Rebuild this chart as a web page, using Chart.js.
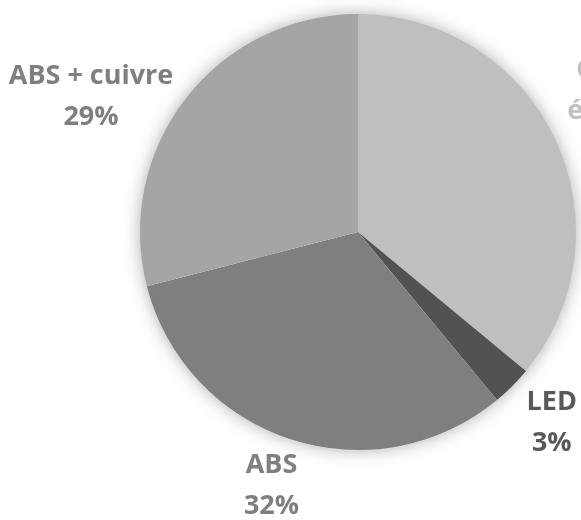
<!DOCTYPE html>
<html>
<head>
<meta charset="utf-8">
<script src="https://cdn.jsdelivr.net/npm/chart.js@4.4.1/dist/chart.umd.min.js"></script>
<style>
  html, body { margin: 0; padding: 0; background: #ffffff; overflow: hidden; }
  #wrap { width: 581px; height: 520px; position: relative; }
</style>
</head>
<body>
<div id="wrap"><canvas id="c" width="581" height="520"></canvas></div>
<script>
// ---- data ----
const categories = ["Composants électroniques", "LED", "ABS", "ABS + cuivre"];
const labelLines = [["Composants", "électroniques"], ["LED"], ["ABS"], ["ABS + cuivre"]];
const shares = [36, 3, 32, 29];

// ---- styles ----
const sliceColors = ["#bfbfbf", "#525252", "#7f7f7f", "#a5a5a5"];
const labelColors = ["#bfbfbf", "#595959", "#7f7f7f", "#7f7f7f"];
const labelFont = 'bold 27px "Open Sans", "DejaVu Sans", sans-serif';
const labelGap = 49;          // distance beyond the pie edge for label anchors
const lineSpacing = 41;
const capHeight = 0.714 * 27;
// per-label nudges (Excel "best fit" adjustments)
const labelNudge = [[60, -9], [5, 0], [-4, -2], [-56, 27]];

const shadowPlugin = {
  id: 'pieShadow',
  beforeDatasetsDraw(chart) {
    const arc = chart.getDatasetMeta(0).data[0];
    if (!arc) return;
    const { x, y, outerRadius } = arc.getProps(['x', 'y', 'outerRadius'], true);
    const ctx = chart.ctx;
    ctx.save();
    ctx.shadowColor = 'rgba(0,0,0,0.35)';
    ctx.shadowBlur = 18;
    ctx.shadowOffsetX = 0;
    ctx.shadowOffsetY = 0;
    ctx.fillStyle = '#ffffff';
    ctx.beginPath();
    ctx.arc(x, y, outerRadius - 1, 0, Math.PI * 2);
    ctx.fill();
    ctx.restore();
  }
};

const labelPlugin = {
  id: 'pieLabels',
  afterDatasetsDraw(chart) {
    const ctx = chart.ctx;
    const meta = chart.getDatasetMeta(0);
    ctx.save();
    ctx.font = labelFont;
    ctx.textAlign = 'center';
    ctx.textBaseline = 'alphabetic';
    meta.data.forEach((arc, i) => {
      const p = arc.getProps(['x', 'y', 'startAngle', 'endAngle', 'outerRadius'], true);
      const mid = (p.startAngle + p.endAngle) / 2;
      const rr = p.outerRadius + labelGap;
      const cx = p.x + Math.cos(mid) * rr + labelNudge[i][0];
      const cy = p.y + Math.sin(mid) * rr + labelNudge[i][1];
      const lines = labelLines[i].concat([shares[i] + '%']);
      const n = lines.length;
      ctx.fillStyle = labelColors[i];
      lines.forEach((t, k) => {
        const ly = cy + (k - (n - 1) / 2) * lineSpacing + capHeight / 2;
        ctx.fillText(t, cx, ly);
      });
    });
    ctx.restore();
  }
};

function build() {
  new Chart(document.getElementById('c'), {
    type: 'pie',
    data: {
      labels: categories,
      datasets: [{
        data: shares,
        backgroundColor: sliceColors,
        borderWidth: 0,
        hoverOffset: 0
      }]
    },
    options: {
      responsive: false,
      animation: false,
      devicePixelRatio: 1,
      layout: { padding: { left: 140, right: 5, top: 14, bottom: 70 } },
      plugins: {
        legend: { display: false },
        tooltip: { enabled: false }
      }
    },
    plugins: [shadowPlugin, labelPlugin]
  });
}

if (document.fonts && document.fonts.load) {
  document.fonts.load(labelFont).then(build, build);
} else {
  build();
}
</script>
</body>
</html>
